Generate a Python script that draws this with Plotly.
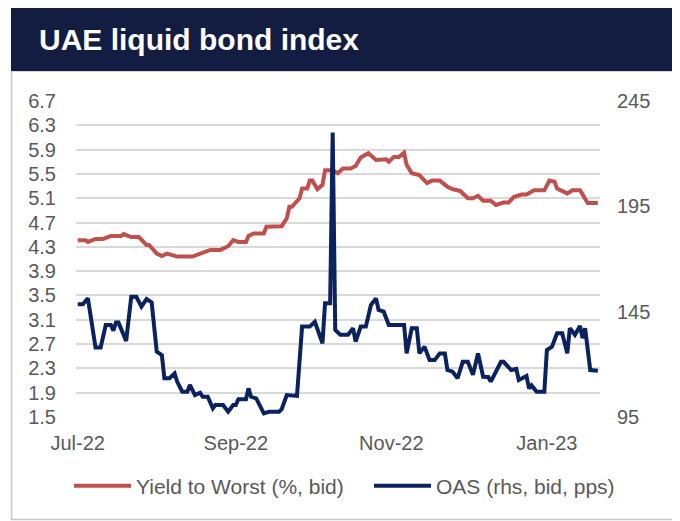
import plotly.graph_objects as go

# ---- data ----
ytw_dates = ["2022-07-01","2022-07-04","2022-07-05","2022-07-08","2022-07-11","2022-07-14","2022-07-18",
             "2022-07-19","2022-07-22","2022-07-25","2022-07-28","2022-07-29","2022-08-01","2022-08-03",
             "2022-08-05","2022-08-09","2022-08-15","2022-08-18","2022-08-22","2022-08-26","2022-08-29",
             "2022-08-31","2022-09-02","2022-09-05","2022-09-06","2022-09-08","2022-09-12","2022-09-13",
             "2022-09-15","2022-09-19","2022-09-21","2022-09-22","2022-09-23","2022-09-26","2022-09-27",
             "2022-09-29","2022-09-30","2022-10-01","2022-10-03","2022-10-05","2022-10-06","2022-10-09",
             "2022-10-11","2022-10-13","2022-10-16","2022-10-18","2022-10-20","2022-10-23","2022-10-26",
             "2022-10-30","2022-10-31","2022-11-02","2022-11-04","2022-11-06","2022-11-07","2022-11-09",
             "2022-11-12","2022-11-15","2022-11-17","2022-11-20","2022-11-23","2022-11-25","2022-11-28",
             "2022-12-01","2022-12-03","2022-12-05","2022-12-07","2022-12-10","2022-12-12","2022-12-15",
             "2022-12-17","2022-12-19","2022-12-22","2022-12-24","2022-12-27","2022-12-31","2023-01-02",
             "2023-01-04","2023-01-05","2023-01-09","2023-01-11","2023-01-14","2023-01-17","2023-01-21"]
ytw_values = [4.41,4.41,4.38,4.43,4.43,4.48,4.48,
              4.51,4.46,4.46,4.33,4.33,4.19,4.15,
              4.19,4.14,4.14,4.19,4.25,4.25,4.31,
              4.41,4.38,4.38,4.48,4.52,4.52,4.63,
              4.63,4.64,4.77,4.96,4.96,5.10,5.26,
              5.26,5.39,5.39,5.25,5.32,5.56,5.56,
              5.51,5.59,5.59,5.63,5.77,5.84,5.73,
              5.74,5.70,5.78,5.78,5.85,5.65,5.51,
              5.48,5.35,5.39,5.39,5.29,5.25,5.22,
              5.10,5.10,5.14,5.06,5.06,4.99,5.03,
              5.03,5.12,5.16,5.16,5.23,5.23,5.39,
              5.37,5.26,5.18,5.23,5.23,5.02,5.02]

oas_dates = ["2022-07-01","2022-07-03","2022-07-05","2022-07-08","2022-07-10","2022-07-12","2022-07-14",
             "2022-07-15","2022-07-16","2022-07-17","2022-07-20","2022-07-22","2022-07-24","2022-07-26",
             "2022-07-28","2022-07-30","2022-08-01","2022-08-03","2022-08-04","2022-08-06","2022-08-08",
             "2022-08-09","2022-08-11","2022-08-13","2022-08-14","2022-08-16","2022-08-18","2022-08-19",
             "2022-08-21","2022-08-23","2022-08-24","2022-08-27","2022-08-29","2022-08-31","2022-09-01",
             "2022-09-02","2022-09-05","2022-09-06","2022-09-07","2022-09-09","2022-09-12","2022-09-14",
             "2022-09-18","2022-09-19","2022-09-21","2022-09-25","2022-09-27","2022-09-30","2022-10-02",
             "2022-10-05","2022-10-06","2022-10-08","2022-10-09","2022-10-10","2022-10-12","2022-10-15",
             "2022-10-17","2022-10-18","2022-10-20","2022-10-22","2022-10-24","2022-10-26","2022-10-27",
             "2022-10-29","2022-10-31","2022-11-06","2022-11-07","2022-11-09","2022-11-11","2022-11-12",
             "2022-11-14","2022-11-16","2022-11-18","2022-11-20","2022-11-22","2022-11-23","2022-11-25",
             "2022-11-27","2022-11-29","2022-12-01","2022-12-03","2022-12-05","2022-12-07","2022-12-09",
             "2022-12-10","2022-12-11","2022-12-14","2022-12-15","2022-12-18","2022-12-20","2022-12-21",
             "2022-12-24","2022-12-25","2022-12-26","2022-12-28","2022-12-31","2023-01-01","2023-01-03",
             "2023-01-05","2023-01-07","2023-01-09","2023-01-10","2023-01-12","2023-01-14","2023-01-15",
             "2023-01-16","2023-01-18","2023-01-21"]
oas_values = [148.5,148.5,151.3,128.0,128.0,138.7,138.7,
              136.0,139.8,139.8,131.1,152.1,152.1,147.4,
              151.0,149.4,126.0,124.4,113.4,113.4,115.7,
              111.8,107.0,107.0,110.2,105.4,106.5,104.6,
              104.6,99.1,100.7,100.7,97.5,100.7,100.7,
              103.4,103.4,108.6,104.6,103.8,96.7,97.5,
              97.5,98.7,105.4,105.0,137.9,137.9,140.2,
              130.0,149.0,149.0,230.0,136.3,134.0,134.0,
              137.1,130.8,137.9,137.9,148.2,151.3,145.8,
              145.0,138.7,138.7,125.2,137.1,137.1,125.2,
              128.4,122.0,122.0,125.2,125.2,117.3,116.5,
              113.4,121.2,121.2,115.0,125.2,114.1,114.0,
              111.8,114.1,121.2,121.2,117.3,117.8,112.6,
              114.5,108.6,110.0,107.0,107.0,126.8,128.4,
              134.7,134.7,125.2,137.1,134.0,138.2,132.4,
              137.1,117.3,117.0]

x_tick_vals = ["2022-07-01", "2022-09-01", "2022-11-01", "2023-01-01"]
x_tick_text = ["Jul-22", "Sep-22", "Nov-22", "Jan-23"]
left_ticks = [1.5, 1.9, 2.3, 2.7, 3.1, 3.5, 3.9, 4.3, 4.7, 5.1, 5.5, 5.9, 6.3, 6.7]
right_ticks = [95, 145, 195, 245]

title_text = "UAE liquid bond index"
name_ytw = "Yield to Worst (%, bid)"
name_oas = "OAS (rhs, bid, pps)"

RED = "#C0504D"
NAVY = "#0A2260"
GREY_TXT = "#595959"
FONT = "Liberation Sans, Arial, sans-serif"

# page is offset by the default 8px body margin; page-space plot area:
OFF = 8
PW, PH = 680, 521
L, R, T, B = 76, 600, 101, 417

def px(x):
    return (x - L) / (R - L)

def py(y):
    return (B - y) / (B - T)

fig = go.Figure()
fig.add_trace(go.Scatter(x=ytw_dates, y=ytw_values, name=name_ytw, mode="lines",
                         line=dict(color=RED, width=4), yaxis="y", legend="legend"))
fig.add_trace(go.Scatter(x=oas_dates, y=oas_values, name=name_oas, mode="lines",
                         line=dict(color=NAVY, width=4), yaxis="y2", legend="legend2"))

leg_common = dict(orientation="h", xanchor="left", y=py(486), yanchor="middle",
                  font=dict(size=21, color=GREY_TXT), itemwidth=57,
                  bgcolor="rgba(0,0,0,0)")

fig.update_layout(
    width=PW - OFF, height=PH - OFF,
    margin=dict(l=L - OFF, r=PW - R, t=T - OFF, b=PH - B, pad=0),
    paper_bgcolor="white", plot_bgcolor="white",
    font=dict(family=FONT, size=20, color=GREY_TXT),
    showlegend=True,
    legend=dict(x=px(69), **leg_common),
    legend2=dict(x=px(369), **leg_common),
    xaxis=dict(type="date", range=["2022-06-30 08:00", "2023-01-21 20:00"],
               tickvals=x_tick_vals, ticktext=x_tick_text, showgrid=False,
               showline=False, zeroline=False, ticks="", ticklabelstandoff=12,
               tickfont=dict(size=20, color=GREY_TXT)),
    yaxis=dict(range=[1.5, 6.7], tickvals=left_ticks, ticktext=[f"{v:.1f}" for v in left_ticks],
               showgrid=True, gridcolor="#D9D9D9", gridwidth=1.5, zeroline=False,
               showline=False, ticks="", ticklabelstandoff=19,
               tickfont=dict(size=20, color=GREY_TXT)),
    yaxis2=dict(range=[95, 245], tickvals=right_ticks, overlaying="y", side="right",
                showgrid=False, zeroline=False, showline=False, ticks="",
                ticklabelstandoff=16, tickfont=dict(size=20, color=GREY_TXT)),
    shapes=[
        dict(type="rect", xref="paper", yref="paper", x0=px(11.5), x1=px(677.5),
             y0=py(519.5), y1=py(71), line=dict(color="#C8C8C8", width=1.5),
             fillcolor="rgba(0,0,0,0)", layer="below"),
        dict(type="rect", xref="paper", yref="paper", x0=px(11), x1=px(690),
             y0=py(71), y1=py(6), line=dict(width=0), fillcolor="#131C41", layer="above"),
    ],
    annotations=[
        dict(text="<b>" + title_text + "</b>", xref="paper", yref="paper", x=px(37), y=py(39),
             xanchor="left", yanchor="middle", showarrow=False,
             font=dict(family=FONT, size=30, color="white")),
    ],
)

fig.write_html("out.html")
